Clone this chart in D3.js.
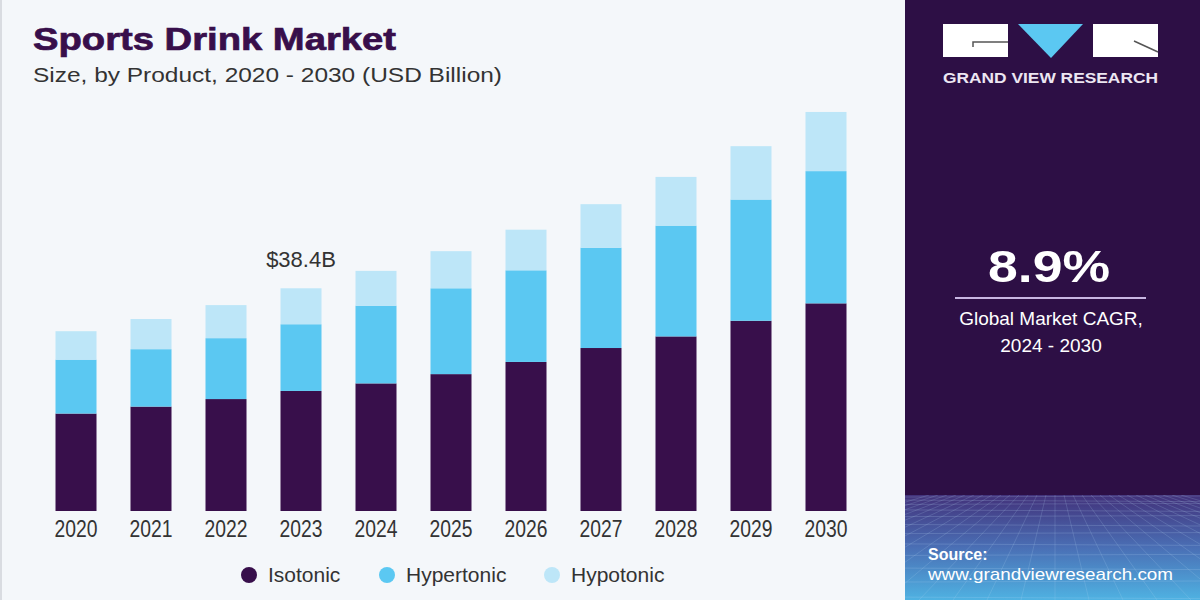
<!DOCTYPE html>
<html>
<head>
<meta charset="utf-8">
<script src="https://cdn.jsdelivr.net/npm/d3@7"></script>
<style>
  html, body { margin: 0; padding: 0; background: #f4f7fa; }
  #chart { width: 1200px; height: 600px; }
  text { font-family: "Liberation Sans", Arial, sans-serif; }
</style>
</head>
<body>
<div id="chart"></div>
<script>
"use strict";

const years = ["2020", "2021", "2022", "2023", "2024", "2025", "2026", "2027", "2028", "2029", "2030"];
const segments = ["Isotonic", "Hypertonic", "Hypotonic"];
const isotonic = [16.8, 18.0, 19.3, 20.7, 22.0, 23.6, 25.7, 28.1, 30.1, 32.8, 35.8];
const hypertonic = [9.3, 9.9, 10.5, 11.5, 13.4, 14.8, 15.8, 17.3, 19.1, 20.9, 22.8];
const hypotonic = [4.9, 5.2, 5.7, 6.2, 6.0, 6.4, 7.0, 7.5, 8.4, 9.2, 10.2];
const annotatedYear = "2023";
const annotatedLabel = "$38.4B";
const cagr = "8.9%";
const cagrLabel = ["Global Market CAGR,", "2024 - 2030"];

const colors = ["#380f4b", "#5bc8f2", "#bde6f8"];
const purple = "#2d0f45";

window.addEventListener("load", function () {
  draw();
});

function draw() {
  const w = 1200;
  const h = 600;
  const baseline = 511;

  const svg = d3
    .select("#chart")
    .append("svg")
    .attr("width", w)
    .attr("height", h);

  svg.append("rect").attr("width", w).attr("height", h).attr("fill", "#f4f7fa");
  // thin grey edge on the left
  svg.append("rect").attr("width", 2).attr("height", h).attr("fill", "#d9dce1");

  // title
  svg
    .append("text")
    .attr("x", 33)
    .attr("y", 50)
    .attr("font-family", "DejaVu Sans")
    .attr("font-weight", "bold")
    .attr("font-size", 31)
    .attr("textLength", 363)
    .attr("lengthAdjust", "spacingAndGlyphs")
    .attr("fill", "#380f4b")
    .attr("stroke", "#380f4b")
    .attr("stroke-width", 0.7)
    .text("Sports Drink Market");

  svg
    .append("text")
    .attr("x", 33)
    .attr("y", 82)
    .attr("font-size", 21)
    .attr("textLength", 469)
    .attr("lengthAdjust", "spacingAndGlyphs")
    .attr("fill", "#333")
    .text("Size, by Product, 2020 - 2030 (USD Billion)");

  // stacked bars
  const table = years.map((y, i) => ({
    year: y,
    Isotonic: isotonic[i],
    Hypertonic: hypertonic[i],
    Hypotonic: hypotonic[i],
  }));
  const stacked = d3.stack().keys(segments)(table);

  const xScale = d3
    .scaleBand()
    .domain(years)
    .range([38.5, 863.5])
    .paddingInner(0.4533)
    .paddingOuter(0.2267);

  const yScale = d3.scaleLinear().domain([0, 40]).range([baseline, baseline - 232]);

  svg
    .append("g")
    .selectAll("g")
    .data(stacked)
    .enter()
    .append("g")
    .attr("fill", (d, i) => colors[i])
    .selectAll("rect")
    .data((d) => d)
    .enter()
    .append("rect")
    .attr("x", (d) => xScale(d.data.year))
    .attr("width", xScale.bandwidth())
    .attr("y", (d) => yScale(d[1]))
    .attr("height", (d) => yScale(d[0]) - yScale(d[1]));

  // x-axis
  const xAxis = svg
    .append("g")
    .attr("id", "x-axis")
    .attr("transform", `translate(0, ${baseline})`)
    .call(d3.axisBottom(xScale).tickSize(0).tickPadding(10));
  xAxis.select(".domain").remove();
  xAxis
    .selectAll("text")
    .attr("font-family", "Liberation Sans")
    .attr("font-size", 23)
    .attr("textLength", 43)
    .attr("lengthAdjust", "spacingAndGlyphs")
    .attr("fill", "#333");

  // annotation
  const top = stacked[stacked.length - 1];
  const idx = years.indexOf(annotatedYear);
  svg
    .append("text")
    .attr("x", xScale(annotatedYear) + xScale.bandwidth() / 2)
    .attr("y", yScale(top[idx][1]) - 21)
    .attr("text-anchor", "middle")
    .attr("font-size", 22)
    .attr("fill", "#333")
    .text(annotatedLabel);

  // legend
  const legendX = [249, 387, 552];
  const legend = svg
    .append("g")
    .selectAll("g")
    .data(segments)
    .enter()
    .append("g")
    .attr("transform", (d, i) => `translate(${legendX[i]}, 575)`);
  legend
    .append("circle")
    .attr("r", 8)
    .attr("fill", (d, i) => colors[i]);
  legend
    .append("text")
    .attr("x", 19)
    .attr("y", 7)
    .attr("font-size", 21)
    .attr("fill", "#333")
    .text((d) => d);

  drawPanel(svg);
}

function drawPanel(svg) {
  const px = 905;
  const pw = 295;
  const panel = svg.append("g");

  panel.append("rect").attr("x", px).attr("width", pw).attr("height", 600).attr("fill", purple);

  // gradient footer with a perspective grid
  const defs = svg.append("defs");
  const grad = defs
    .append("linearGradient")
    .attr("id", "foot")
    .attr("x1", 0)
    .attr("y1", 0)
    .attr("x2", 0)
    .attr("y2", 1);
  grad.append("stop").attr("offset", "0%").attr("stop-color", "#42317a");
  grad.append("stop").attr("offset", "50%").attr("stop-color", "#4a6fb5");
  grad.append("stop").attr("offset", "100%").attr("stop-color", "#4fb2e2");
  defs
    .append("clipPath")
    .attr("id", "footClip")
    .append("rect")
    .attr("x", px)
    .attr("y", 495)
    .attr("width", pw)
    .attr("height", 105);

  panel
    .append("rect")
    .attr("x", px)
    .attr("y", 495)
    .attr("width", pw)
    .attr("height", 105)
    .attr("fill", "url(#foot)");

  const grid = panel.append("g").attr("clip-path", "url(#footClip)");
  const rows = d3.range(0, 14).map((i) => 497 + i * i * 0.6 + i * 2.5);
  grid
    .selectAll("line.row")
    .data(rows)
    .enter()
    .append("line")
    .attr("x1", px)
    .attr("x2", px + pw)
    .attr("y1", (d) => d)
    .attr("y2", (d, i) => d + (i % 2 ? 1.5 : -1))
    .attr("stroke", "#b9d8f5")
    .attr("stroke-opacity", 0.2)
    .attr("stroke-width", 1);
  const cols = d3.range(-14, 15);
  grid
    .selectAll("line.col")
    .data(cols)
    .enter()
    .append("line")
    .attr("x1", (d) => px + 150 + d * 9)
    .attr("x2", (d) => px + 150 + d * 34)
    .attr("y1", 495)
    .attr("y2", 600)
    .attr("stroke", "#b9d8f5")
    .attr("stroke-opacity", 0.18)
    .attr("stroke-width", 1);

  // logo
  panel.append("rect").attr("x", 943).attr("y", 24).attr("width", 65).attr("height", 33).attr("fill", "#fff");
  panel
    .append("path")
    .attr("d", "M1008,42 L973,42 L973,47")
    .attr("fill", "none")
    .attr("stroke", "#555")
    .attr("stroke-width", 1.5);
  panel.append("path").attr("d", "M1018,24 L1083,24 L1051,58 Z").attr("fill", "#5bc8f2");
  panel.append("rect").attr("x", 1093).attr("y", 24).attr("width", 65).attr("height", 33).attr("fill", "#fff");
  panel
    .append("path")
    .attr("d", "M1134,41 L1158,52")
    .attr("fill", "none")
    .attr("stroke", "#555")
    .attr("stroke-width", 1.5);

  panel
    .append("text")
    .attr("x", 943)
    .attr("y", 83)
    .attr("font-size", 15)
    .attr("font-weight", "bold")
    .attr("textLength", 215)
    .attr("lengthAdjust", "spacingAndGlyphs")
    .attr("fill", "#ece6f2")
    .text("GRAND VIEW RESEARCH");

  panel
    .append("text")
    .attr("x", 1049)
    .attr("y", 282)
    .attr("text-anchor", "middle")
    .attr("font-size", 44)
    .attr("font-weight", "bold")
    .attr("textLength", 122)
    .attr("lengthAdjust", "spacingAndGlyphs")
    .attr("fill", "#fff")
    .text(cagr);

  panel
    .append("line")
    .attr("x1", 955)
    .attr("x2", 1146)
    .attr("y1", 298)
    .attr("y2", 298)
    .attr("stroke", "#c8b6e2")
    .attr("stroke-width", 2);

  panel
    .selectAll("text.cagr")
    .data(cagrLabel)
    .enter()
    .append("text")
    .attr("x", 1051)
    .attr("y", (d, i) => 325 + i * 27)
    .attr("text-anchor", "middle")
    .attr("font-size", 19)
    .attr("fill", "#fff")
    .text((d) => d);

  panel
    .append("text")
    .attr("x", 928)
    .attr("y", 560)
    .attr("font-size", 16)
    .attr("font-weight", "bold")
    .attr("fill", "#fff")
    .text("Source:");

  panel
    .append("text")
    .attr("x", 928)
    .attr("y", 580)
    .attr("font-size", 17)
    .attr("textLength", 245)
    .attr("lengthAdjust", "spacingAndGlyphs")
    .attr("fill", "#fff")
    .text("www.grandviewresearch.com");
}
</script>
</body>
</html>
